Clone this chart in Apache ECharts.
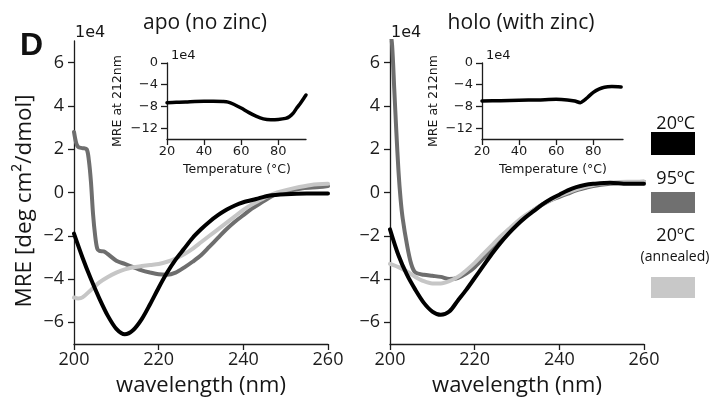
<!DOCTYPE html>
<html><head><meta charset="utf-8">
<script src="https://cdn.jsdelivr.net/npm/echarts@6/dist/echarts.min.js"></script>
<style>html,body{margin:0;padding:0;background:#fff}#c{width:714px;height:401px}</style>
</head><body><div id="c"></div>
<script>
// ---- tick labels ----
const wavelengthTicks = [200, 220, 240, 260];
const mreTicks = [-6, -4, -2, 0, 2, 4, 6];
const tempTicks = [20, 40, 60, 80];
const insetTicks = [-12, -8, -4, 0];

// ---- apo (no zinc), MRE in 1e4 ----
const apo20 = [[200,-1.9],[202,-3.0],[204,-4.0],[206,-4.9],[208,-5.7],[210,-6.3],[212,-6.55],[214,-6.35],[216,-5.85],[218,-5.15],[220,-4.4],[222,-3.7],[224,-3.1],[226,-2.6],[228,-2.1],[230,-1.7],[232,-1.35],[234,-1.05],[236,-0.8],[238,-0.6],[240,-0.45],[243,-0.3],[246,-0.15],[250,-0.08],[255,-0.05],[260,-0.05]];
const apo95 = [[200,2.8],[200.5,2.3],[201,2.1],[202,2.05],[203,2.0],[203.5,1.5],[204,0.5],[204.5,-1.0],[205,-2.0],[205.5,-2.6],[206,-2.7],[207,-2.72],[208,-2.85],[210,-3.15],[212,-3.3],[214,-3.45],[216,-3.6],[218,-3.7],[220,-3.78],[222,-3.8],[224,-3.7],[226,-3.47],[228,-3.2],[230,-2.9],[232,-2.5],[234,-2.1],[236,-1.7],[238,-1.35],[240,-1.05],[242,-0.75],[244,-0.5],[246,-0.25],[248,-0.05],[250,0.05],[254,0.2],[258,0.25],[260,0.3]];
const apoAnn = [[200,-4.85],[201,-4.9],[202,-4.85],[204,-4.5],[206,-4.15],[208,-3.9],[210,-3.7],[212,-3.55],[214,-3.45],[216,-3.4],[218,-3.35],[220,-3.3],[222,-3.2],[224,-3.05],[226,-2.85],[228,-2.6],[230,-2.3],[232,-2.0],[234,-1.7],[236,-1.4],[238,-1.1],[240,-0.8],[242,-0.55],[244,-0.35],[246,-0.15],[248,0.0],[252,0.2],[256,0.35],[260,0.4]];

// ---- holo (with zinc), MRE in 1e4 ----
const holo20 = [[200,-1.7],[202,-2.9],[204,-3.8],[206,-4.5],[208,-5.1],[210,-5.5],[212,-5.65],[214,-5.5],[216,-5.0],[218,-4.5],[220,-3.95],[222,-3.4],[224,-2.85],[226,-2.35],[228,-1.9],[230,-1.5],[232,-1.15],[234,-0.85],[236,-0.55],[238,-0.3],[240,-0.1],[242,0.1],[244,0.25],[246,0.35],[248,0.4],[252,0.45],[256,0.4],[260,0.4]];
const holo95 = [[200,7.6],[200.5,6.8],[201,4.8],[201.5,2.8],[202,1.0],[202.5,-0.3],[203,-1.2],[204,-2.4],[205,-3.3],[206,-3.7],[208,-3.8],[210,-3.85],[212,-3.9],[214,-4.0],[216,-3.95],[218,-3.75],[220,-3.45],[222,-3.05],[224,-2.6],[226,-2.15],[228,-1.75],[230,-1.4],[232,-1.1],[234,-0.8],[236,-0.55],[238,-0.35],[240,-0.2],[242,-0.05],[244,0.1],[246,0.2],[248,0.3],[252,0.4],[256,0.45],[260,0.5]];
const holoAnn = [[200,-3.3],[202,-3.45],[204,-3.65],[206,-3.9],[208,-4.1],[210,-4.2],[212,-4.2],[214,-4.1],[216,-3.9],[218,-3.6],[220,-3.25],[222,-2.85],[224,-2.45],[226,-2.05],[228,-1.7],[230,-1.35],[232,-1.05],[234,-0.8],[236,-0.55],[238,-0.35],[240,-0.15],[244,0.15],[248,0.35],[252,0.45],[256,0.5],[260,0.5]];

// ---- insets: MRE at 212 nm vs temperature (1e4) ----
const apoMelt = [[20,-7.3],[25,-7.25],[30,-7.2],[35,-7.1],[40,-7.05],[45,-7.05],[50,-7.1],[53,-7.2],[56,-7.6],[60,-8.3],[64,-9.1],[68,-9.8],[72,-10.3],[76,-10.45],[80,-10.4],[84,-10.2],[86,-9.9],[88,-9.3],[90,-8.3],[92,-7.4],[94,-6.4],[95,-5.9]];
const holoMelt = [[20,-7.0],[30,-6.95],[40,-6.85],[50,-6.8],[60,-6.7],[66,-6.8],[70,-7.0],[73,-7.3],[75,-6.9],[77,-6.3],[80,-5.4],[83,-4.8],[86,-4.45],[90,-4.35],[95,-4.4]];

const C20 = '#000000', C95 = '#6e6e6e', CANN = '#c6c6c6';
const AX = '#1c1c1c';
function axis(extra, ticks, font, fs, margin) {
  return Object.assign({
    type: 'value',
    axisLine: {show: true, onZero: false, lineStyle: {color: AX, width: 1.3}},
    axisTick: {show: true, length: 6, inside: false, lineStyle: {color: AX, width: 1.3}, customValues: ticks},
    axisLabel: {color: AX, fontFamily: font, fontSize: fs, margin: margin, customValues: ticks,
      formatter: v => (v < 0 ? '\u2212' + Math.abs(v) : '' + v)},
    splitLine: {show: false}
  }, extra);
}
function line(data, color, xi, yi, w, z) {
  return {type: 'line', data: data, xAxisIndex: xi, yAxisIndex: yi, showSymbol: false, smooth: 0.3,
    lineStyle: {color: color, width: w, cap: 'round', join: 'round'}, z: z, clip: true, silent: true};
}

const chart = echarts.init(document.getElementById('c'), null, {renderer: 'canvas'});
const txt = (x, y, s, o) => ({type: 'text', x: x, y: y, style: Object.assign({text: s, fill: '#161616'}, o)});
chart.setOption({
  animation: false,
  backgroundColor: '#fff',
  grid: [
    {left: 74, top: 41, width: 254, height: 303},
    {left: 390, top: 41, width: 254, height: 303},
    {left: 167, top: 63, width: 139, height: 76},
    {left: 482, top: 63, width: 141, height: 76}
  ],
  xAxis: [
    axis({gridIndex: 0, min: 200, max: 260, interval: 20}, wavelengthTicks, 'Open Sans', 18, 7),
    axis({gridIndex: 1, min: 200, max: 260, interval: 20}, wavelengthTicks, 'Open Sans', 18, 7),
    axis({gridIndex: 2, min: 20, max: 95, interval: 20}, tempTicks, 'DejaVu Sans', 13, 6),
    axis({gridIndex: 3, min: 20, max: 96, interval: 20}, tempTicks, 'DejaVu Sans', 13, 6)
  ],
  yAxis: [
    axis({gridIndex: 0, min: -7, max: 7}, mreTicks, 'Open Sans', 18, 10),
    axis({gridIndex: 1, min: -7, max: 7}, mreTicks, 'Open Sans', 18, 10),
    axis({gridIndex: 2, min: -14, max: 0}, insetTicks, 'DejaVu Sans', 13, 9),
    axis({gridIndex: 3, min: -14, max: 0}, insetTicks, 'DejaVu Sans', 13, 9)
  ],
  series: [
    line(apo95, C95, 0, 0, 4, 2), line(apoAnn, CANN, 0, 0, 4, 3), line(apo20, C20, 0, 0, 4, 4),
    line(holo95, C95, 1, 1, 4, 2), line(holoAnn, CANN, 1, 1, 4, 3), line(holo20, C20, 1, 1, 4, 4),
    line(apoMelt, C20, 2, 2, 3.5, 4), line(holoMelt, C20, 3, 3, 3.5, 4)
  ],
  graphic: [
    txt(20, 30, 'D', {font: 'bold 32px "Liberation Sans"', fill: '#111'}),
    txt(205, 23, 'apo (no zinc)', {font: '21px "Open Sans"', align: 'center', verticalAlign: 'middle'}),
    txt(521, 23, 'holo (with zinc)', {font: '21px "Open Sans"', align: 'center', verticalAlign: 'middle'}),
    txt(75, 33, '1e4', {font: '16px "DejaVu Sans"', verticalAlign: 'middle'}),
    txt(391, 33, '1e4', {font: '16px "DejaVu Sans"', verticalAlign: 'middle'}),
    txt(171, 56, '1e4', {font: '13px "DejaVu Sans"', verticalAlign: 'middle'}),
    txt(486, 56, '1e4', {font: '13px "DejaVu Sans"', verticalAlign: 'middle'}),
    {type: 'text', x: 25, y: 201, rotation: Math.PI / 2, style: {text: 'MRE [deg cm\u00b2/dmol]', font: '22.5px "Open Sans"', fill: '#161616', align: 'center', verticalAlign: 'middle'}},
    {type: 'text', x: 118, y: 101, rotation: Math.PI / 2, style: {text: 'MRE at 212nm', font: '12.5px "DejaVu Sans"', fill: '#161616', align: 'center', verticalAlign: 'middle'}},
    {type: 'text', x: 434, y: 101, rotation: Math.PI / 2, style: {text: 'MRE at 212nm', font: '12.5px "DejaVu Sans"', fill: '#161616', align: 'center', verticalAlign: 'middle'}},
    txt(237, 170, 'Temperature (\u00b0C)', {font: '12.5px "DejaVu Sans"', align: 'center', verticalAlign: 'middle'}),
    txt(553, 170, 'Temperature (\u00b0C)', {font: '12.5px "DejaVu Sans"', align: 'center', verticalAlign: 'middle'}),
    txt(201, 386, 'wavelength (nm)', {font: '22px "Open Sans"', align: 'center', verticalAlign: 'middle'}),
    txt(517, 386, 'wavelength (nm)', {font: '22px "Open Sans"', align: 'center', verticalAlign: 'middle'}),
    txt(695, 124, '20\u00baC', {font: '18px "Open Sans"', align: 'right', verticalAlign: 'middle', fill: '#111'}),
    {type: 'rect', shape: {x: 651, y: 132, width: 44, height: 23}, style: {fill: C20}},
    txt(695, 179, '95\u00baC', {font: '18px "Open Sans"', align: 'right', verticalAlign: 'middle', fill: '#111'}),
    {type: 'rect', shape: {x: 651, y: 192, width: 44, height: 21}, style: {fill: '#707070'}},
    txt(695, 236, '20\u00baC', {font: '18px "Open Sans"', align: 'right', verticalAlign: 'middle', fill: '#111'}),
    txt(675, 257, '(annealed)', {font: '14px "Open Sans"', align: 'center', verticalAlign: 'middle', fill: '#111'}),
    {type: 'rect', shape: {x: 651, y: 277, width: 44, height: 21}, style: {fill: '#c8c8c8'}}
  ]
});
</script>
</body></html>
